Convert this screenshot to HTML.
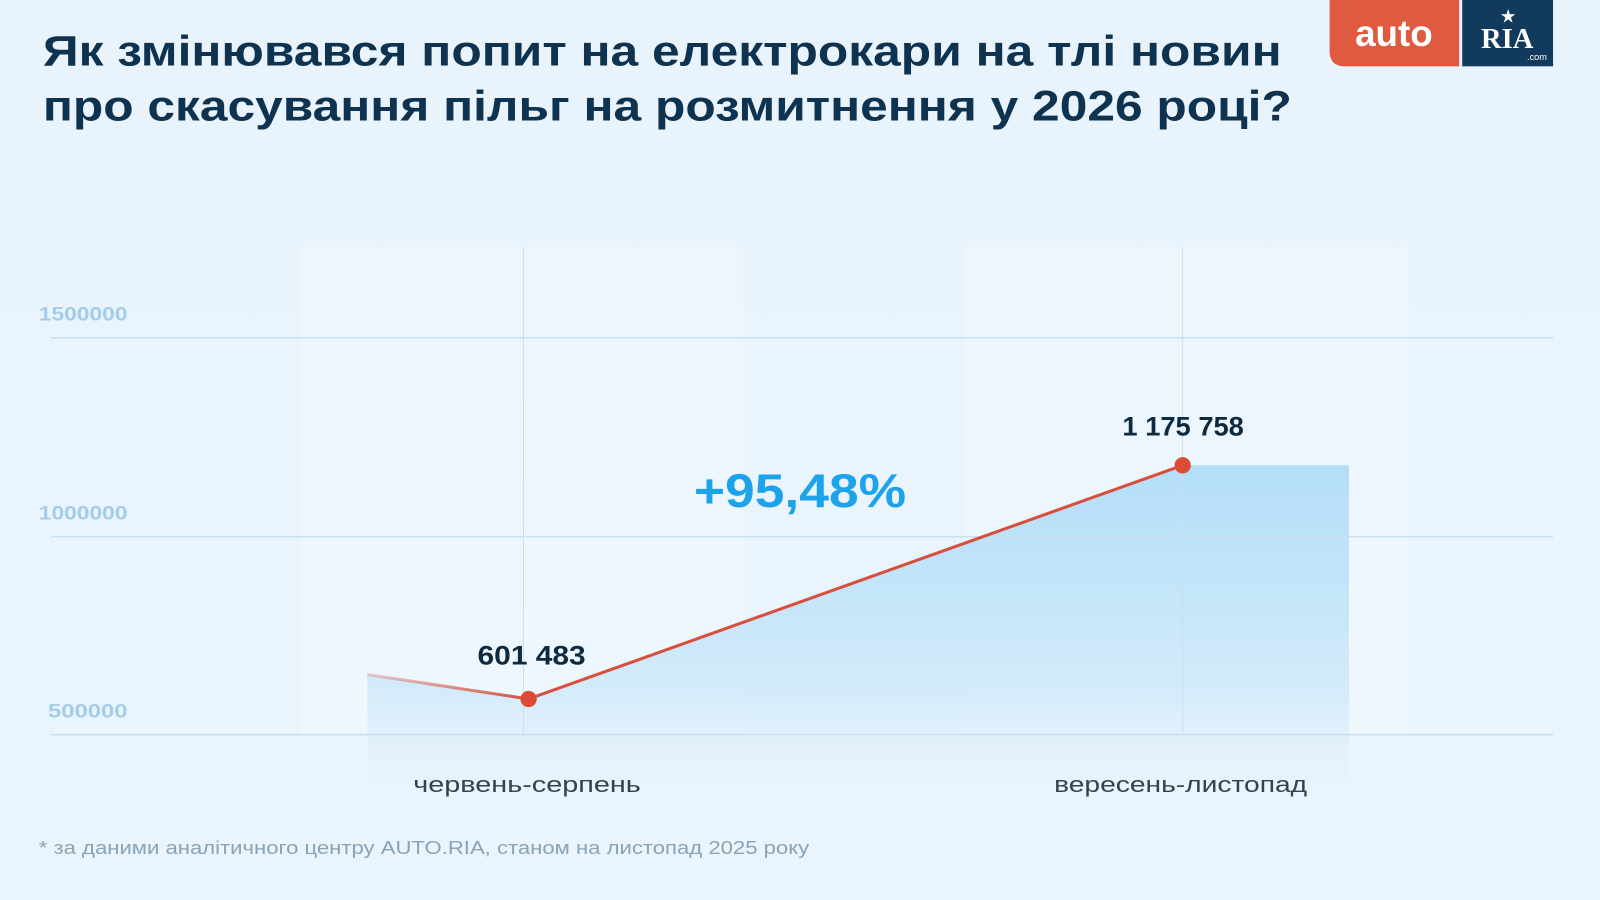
<!DOCTYPE html>
<html><head><meta charset="utf-8"><style>
html,body{margin:0;padding:0;background:#eaf4fc;}
svg{display:block;}
text{font-family:"Liberation Sans",sans-serif;}
</style></head><body>
<svg width="1600" height="900" viewBox="0 0 1568 882" preserveAspectRatio="none" xmlns="http://www.w3.org/2000/svg">
<defs>
<linearGradient id="bg" x1="0" y1="0" x2="0" y2="1"><stop offset="0" stop-color="#e8f3fc"/><stop offset="1" stop-color="#eaf4fc"/></linearGradient>
<linearGradient id="area" x1="0" y1="0" x2="0" y2="1"><stop offset="0" stop-color="#b3def8"/><stop offset="0.7" stop-color="#d3ebfa"/><stop offset="1" stop-color="#e6f3fc" stop-opacity="0.5"/></linearGradient>
<linearGradient id="lfade" x1="0" y1="0" x2="1" y2="0"><stop offset="0" stop-color="#d66a5a" stop-opacity="0.3"/><stop offset="1" stop-color="#d65040"/></linearGradient>
<linearGradient id="rfade" x1="0" y1="0" x2="1" y2="0"><stop offset="0" stop-color="#d65040"/><stop offset="1" stop-color="#d65040" stop-opacity="0.3"/></linearGradient>
</defs>
<rect width="1568" height="882" fill="url(#bg)"/>
<text x="42" y="64" font-size="42" font-weight="bold" fill="#0e3350" textLength="1214" lengthAdjust="spacingAndGlyphs">Як змінювався попит на електрокари на тлі новин</text>
<text x="42" y="118" font-size="42" font-weight="bold" fill="#0e3350" textLength="1224" lengthAdjust="spacingAndGlyphs">про скасування пільг на розмитнення у 2026 році?</text>
<path d="M1303 0H1430V65H1318Q1303 65 1303 50Z" fill="#e05a40"/>
<text x="1366" y="45" font-size="36" font-weight="bold" fill="#fff" text-anchor="middle">auto</text>
<rect x="1433" y="0" width="89" height="65" fill="#113a5c"/>
<text x="1477" y="47" font-size="28" font-weight="bold" fill="#fff" text-anchor="middle" style="font-family:'Liberation Serif',serif">RIA</text>
<text x="1478" y="22" font-size="18" fill="#fff" text-anchor="middle">★</text>
<text x="1516" y="59" font-size="9" fill="#fff" text-anchor="end">.com</text>
<rect x="295" y="242" width="433" height="478" fill="#f2f8fd" opacity="0.6"/>
<rect x="946" y="242" width="434" height="478" fill="#f2f8fd" opacity="0.6"/>
<path d="M360 661L518 685L1159 456L1322 456V770H360Z" fill="url(#area)"/>
<g stroke="#c8e0f1" stroke-width="1.5">
<line x1="50" y1="331" x2="1522" y2="331"/>
<line x1="50" y1="526" x2="1522" y2="526"/>
<line x1="50" y1="720" x2="1522" y2="720"/>
<line x1="513" y1="242" x2="513" y2="720" stroke-width="1"/>
<line x1="1159" y1="242" x2="1159" y2="720" stroke-width="1"/>
</g>
<g font-size="19" font-weight="bold" fill="#a3cde8">
<text x="38" y="314" textLength="87" lengthAdjust="spacingAndGlyphs">1500000</text>
<text x="38" y="509" textLength="87" lengthAdjust="spacingAndGlyphs">1000000</text>
<text x="47" y="703" textLength="78" lengthAdjust="spacingAndGlyphs">500000</text>
</g>
<line x1="360" y1="661" x2="518" y2="685" stroke="url(#lfade)" stroke-width="3"/>
<line x1="518" y1="685" x2="1159" y2="456" stroke="#d65040" stroke-width="3"/>
<line x1="1159" y1="456" x2="1322" y2="456" stroke="url(#rfade)" stroke-width="3"/>
<circle cx="518" cy="685" r="8" fill="#dc4b36"/>
<circle cx="1159" cy="456" r="8" fill="#dc4b36"/>
<text x="468" y="651" font-size="26" font-weight="bold" fill="#0e2a40" textLength="106" lengthAdjust="spacingAndGlyphs">601 483</text>
<text x="1100" y="427" font-size="26" font-weight="bold" fill="#0e2a40" textLength="119" lengthAdjust="spacingAndGlyphs">1 175 758</text>
<text x="680" y="497" font-size="46" font-weight="bold" fill="#1da3ea" textLength="208" lengthAdjust="spacingAndGlyphs">+95,48%</text>
<text x="405" y="776" font-size="22" fill="#34424e" textLength="223" lengthAdjust="spacingAndGlyphs">червень-серпень</text>
<text x="1033" y="776" font-size="22" fill="#34424e" textLength="248" lengthAdjust="spacingAndGlyphs">вересень-листопад</text>
<text x="38" y="837" font-size="18" fill="#8aa3b6" textLength="755" lengthAdjust="spacingAndGlyphs">* за даними аналітичного центру AUTO.RIA, станом на листопад 2025 року</text>
</svg>
</body></html>
